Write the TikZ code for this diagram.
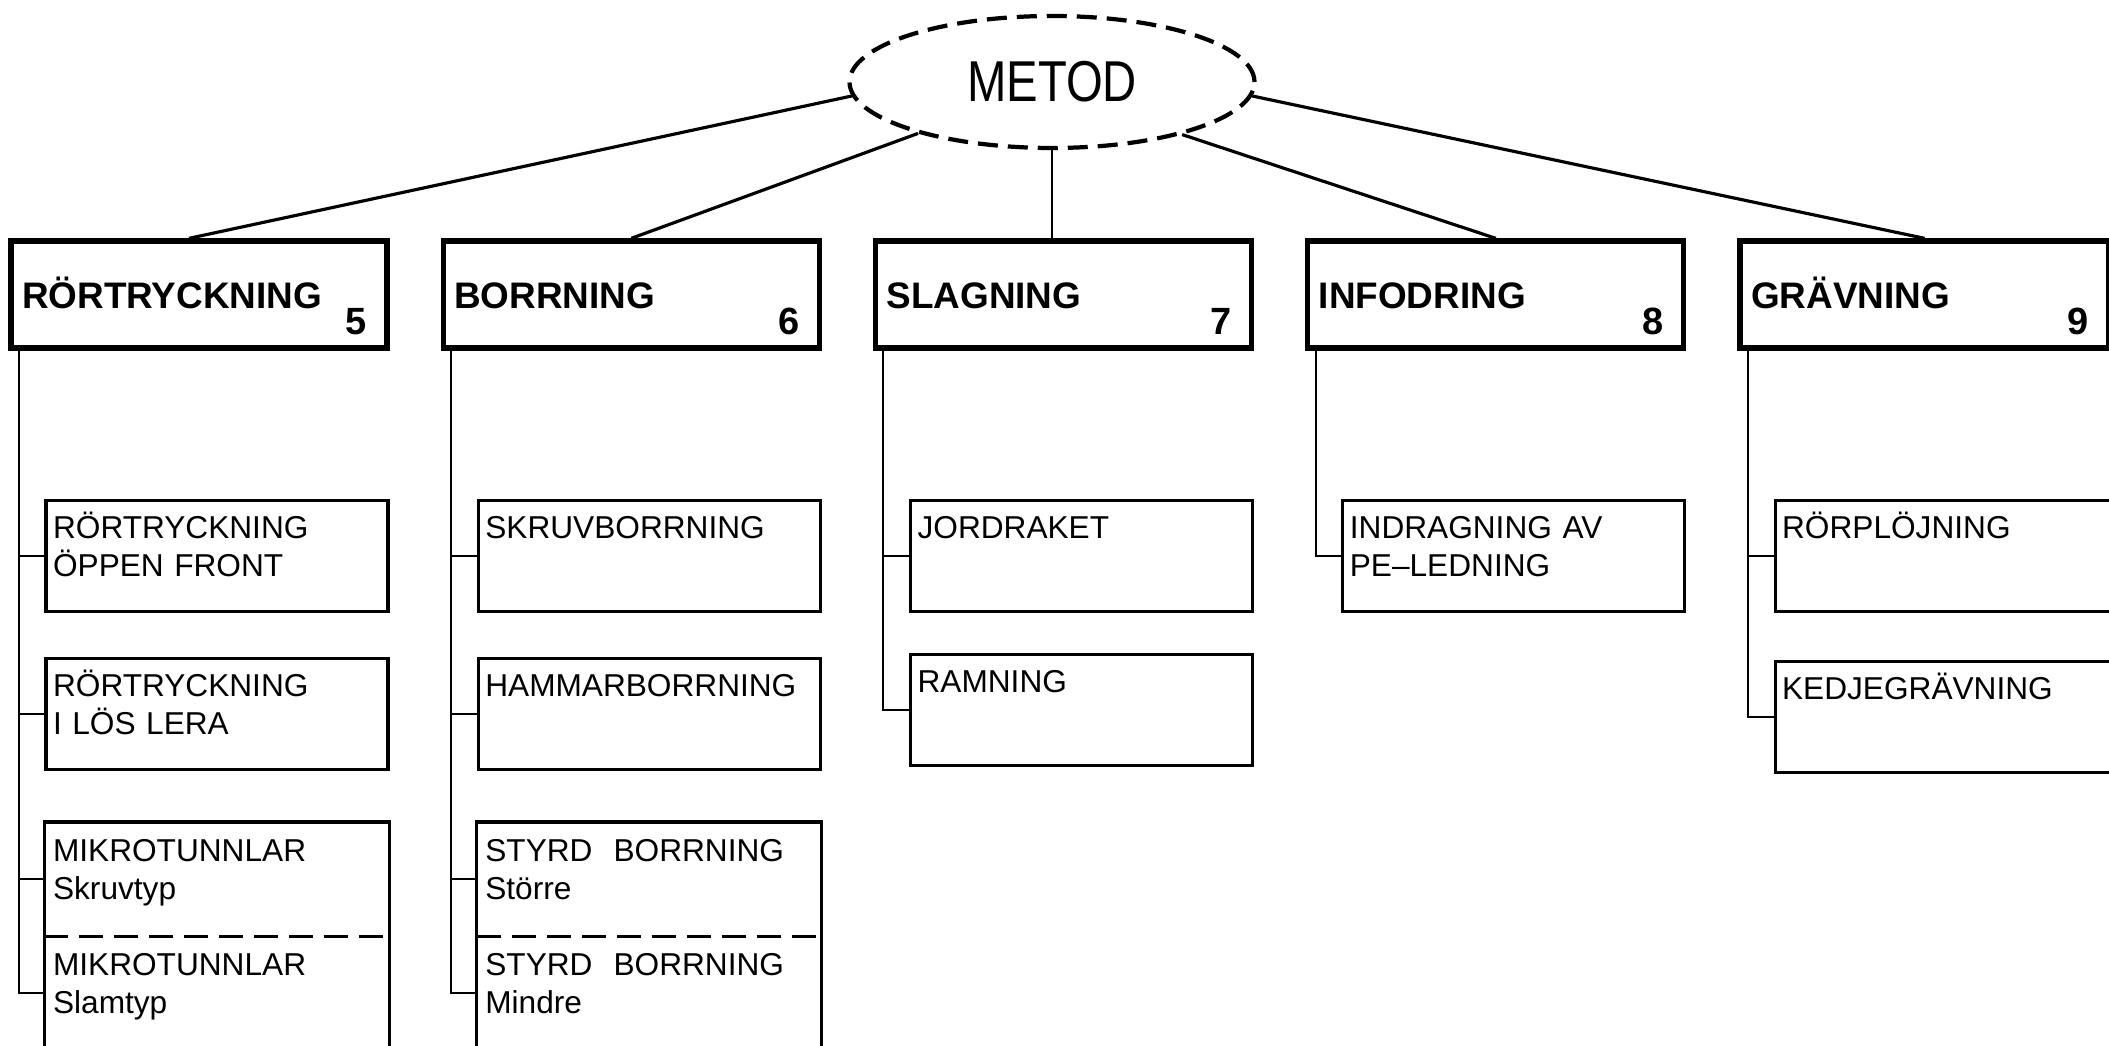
\documentclass[tikz,border=0pt]{standalone}
\usepackage{fontspec}
\setmainfont{Liberation Sans}
\newfontfamily\metodfont[FakeStretch=0.82]{Liberation Sans}
\usetikzlibrary{positioning,shapes.geometric}

\begin{document}
\begin{tikzpicture}[node distance=0.51cm,
    metod node/.style={ellipse,draw,line width=1.2pt,dash pattern=on 0.2cm off 0.1cm,
                       minimum width=4.05cm,minimum height=1.32cm,
                       font=\metodfont\fontsize{16.4}{18}\selectfont},
    main node/.style={rectangle,draw,line width=1.5pt,text width=3.54cm,align=left,
                      inner xsep=0.11cm,inner ysep=0.05cm,text height=0.63cm,text depth=0.34cm,
                      font=\bfseries\fontsize{10.5}{12}\selectfont},
    num/.style={label={[num label]south east:#1}},
    num label/.style={anchor=base east,xshift=-0.22cm,yshift=0.16cm,inner sep=0pt,
                      font=\bfseries\fontsize{10.8}{12}\selectfont},
    sub node/.style={rectangle,draw,line width=0.9pt,text width=3.28cm,align=left,
                     inner xsep=0.07cm,inner ysep=0.06cm,text height=0.32cm,text depth=0.67cm,
                     font=\fontsize{9}{10.8}\selectfont},
    open node/.style={sub node,draw=none},
    edge line/.style={line width=0.9pt},
    trunk/.style={line width=0.6pt}]
  \useasboundingbox (0,0) rectangle (21.09,-10.46);

  \node[metod node] (metod) at (10.52,-0.82) {METOD};

  % huvudmetoder
  \node[main node,num=5] (rort) at (1.99,-2.945) {RÖRTRYCKNING};
  \node[main node,num=6] (borr) [right=of rort] {BORRNING};
  \node[main node,num=7] (slag) [right=of borr] {SLAGNING};
  \node[main node,num=8] (info) [right=of slag] {INFODRING};
  \node[main node,num=9,text width=3.47cm] (grav) [right=of info] {GRÄVNING};

  \path[edge line]
    (metod.184) edge ([xshift=-0.1cm]rort.north)
    (metod.201) edge (borr.north)
    (metod.338) edge (info.north)
    (metod.356) edge (grav.north);
  \draw[trunk] (metod.south) -- (metod.south |- slag.north);

  % rörtryckning
  \node[sub node] (rort1) [below left=1.48cm and 0cm of rort.south east] {RÖRTRYCKNING\\ÖPPEN FRONT};
  \node[sub node] (rort2) [below=0.44cm of rort1] {RÖRTRYCKNING\\I LÖS LERA};
  \node[open node] (rort3) [below=0.51cm of rort2] {MIKROTUNNLAR\\Skruvtyp};
  \node[open node] (rort4) [below=0cm of rort3] {MIKROTUNNLAR\\Slamtyp};

  % borrning
  \node[sub node] (borr1) [below left=1.48cm and 0cm of borr.south east] {SKRUVBORRNING};
  \node[sub node] (borr2) [below=0.44cm of borr1] {HAMMARBORRNING};
  \node[open node] (borr3) [below=0.51cm of borr2] {STYRD~~BORRNING\\Större};
  \node[open node] (borr4) [below=0cm of borr3] {STYRD~~BORRNING\\Mindre};

  % slagning, infodring, grävning
  \node[sub node] (slag1) [below left=1.48cm and 0cm of slag.south east] {JORDRAKET};
  \node[sub node] (slag2) [below=0.40cm of slag1] {RAMNING};
  \node[sub node] (info1) [below left=1.48cm and 0cm of info.south east] {INDRAGNING AV\\PE--LEDNING};
  \node[sub node,text width=3.21cm] (grav1) [below left=1.48cm and 0cm of grav.south east] {RÖRPLÖJNING};
  \node[sub node,text width=3.21cm] (grav2) [below=0.47cm of grav1] {KEDJEGRÄVNING};

  % öppna rutor
  \foreach \n in {rort3,borr3} {
    \draw[line width=0.9pt] (\n.south west) |- (\n.north east) -- (\n.south east);
    \draw[line width=0.9pt,dash pattern=on 0.24cm off 0.11cm] (\n.south west) -- (\n.south east);
  }
  \draw[line width=0.9pt] (rort4.north west) -- (rort4.south west)
                          (rort4.north east) -- (rort4.south east);
  \draw[line width=0.9pt,gray!60,dash pattern=on 0.24cm off 0.11cm] (rort4.south west) -- (rort4.south east);
  \draw[line width=0.9pt] (borr4.north west) -- (borr4.west |- 0,-10.46)
                          (borr4.north east) -- (borr4.east |- 0,-10.46);

  % stammar
  \coordinate (rortT) at ([xshift=0.105cm]rort.south west);
  \coordinate (borrT) at ([xshift=0.105cm]borr.south west);
  \coordinate (slagT) at ([xshift=0.105cm]slag.south west);
  \coordinate (infoT) at ([xshift=0.105cm]info.south west);
  \coordinate (gravT) at ([xshift=0.105cm]grav.south west);
  \draw[trunk] (rortT) |- (rort1.west) (rortT) |- (rort2.west)
               (rortT) |- (rort3.west) (rortT) |- (rort4.west);
  \draw[trunk] (borrT) |- (borr1.west) (borrT) |- (borr2.west)
               (borrT) |- (borr3.west) (borrT) |- (borr4.west);
  \draw[trunk] (slagT) |- (slag1.west) (slagT) |- (slag2.west);
  \draw[trunk] (infoT) |- (info1.west);
  \draw[trunk] (gravT) |- (grav1.west) (gravT) |- (grav2.west);
\end{tikzpicture}
\end{document}
